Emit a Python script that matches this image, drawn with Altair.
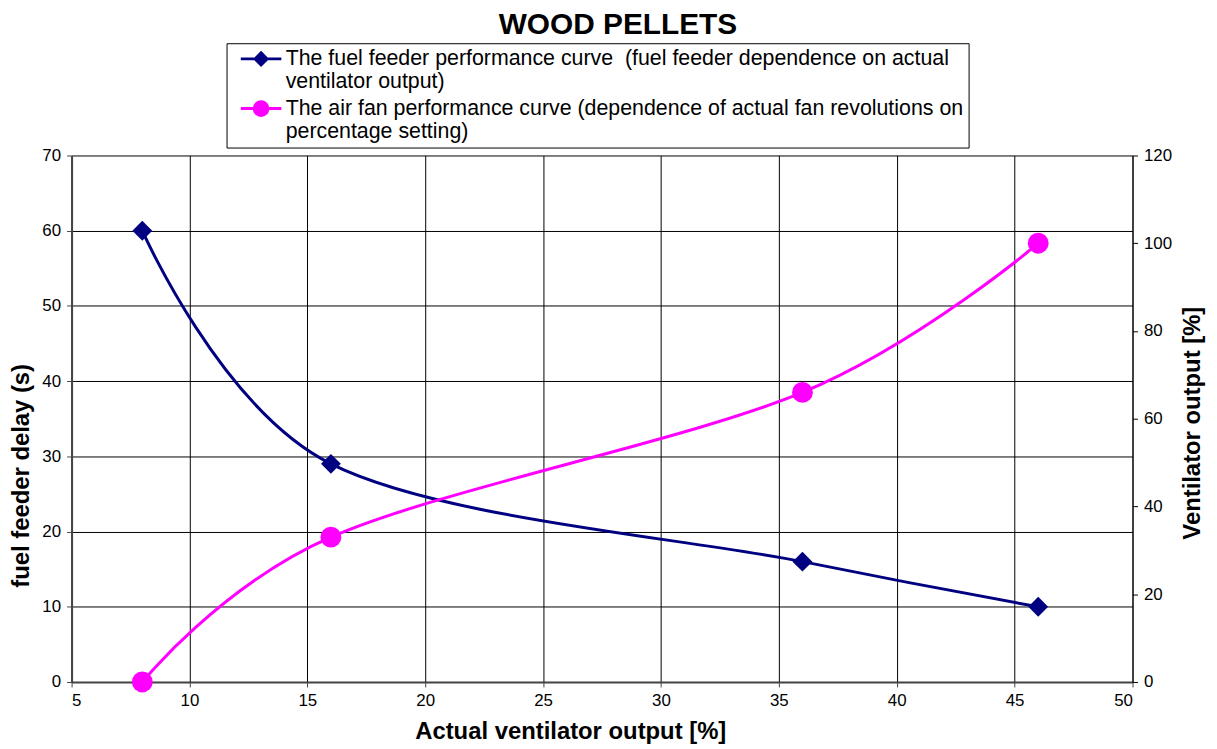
import altair as alt
import pandas as pd

x_vals = [8, 16, 36, 46]
feeder_delay = [60, 29, 16, 10]
fan_output = [0, 33, 66, 100]

feeder_name = "The fuel feeder performance curve\u00a0 (fuel feeder dependence on actual|ventilator output)"
fan_name = "The air fan performance curve (dependence of actual fan revolutions on|percentage setting)"
series_names = [feeder_name, fan_name]
series_colors = ["#000080", "#FF00FF"]

x_ticks = [5, 10, 15, 20, 25, 30, 35, 40, 45, 50]
left_ticks = [0, 10, 20, 30, 40, 50, 60, 70]
right_ticks = [0, 20, 40, 60, 80, 100, 120]

df_feeder = pd.DataFrame({"x": x_vals, "v": feeder_delay, "series": feeder_name})
df_fan = pd.DataFrame({"x": x_vals, "v": fan_output, "series": fan_name})
df_all = pd.concat([df_feeder, df_fan], ignore_index=True)

FONT = "Liberation Sans"

# legend symbols: unit r = 6px; line spans +-20.5px
diamond_path = "M-3.4,0H3.4M0,-1L1,0L0,1L-1,0Z"
circle_path = "M-3.4,0H3.4M1.15,0A1.15,1.15 0 1,1 -1.15,0A1.15,1.15 0 1,1 1.15,0Z"


def make_legend():
    return alt.Legend(
        title=None,
        orient="none",
        legendX=156,
        legendY=-113,
        direction="vertical",
        fillColor="white",
        strokeColor="black",
        padding=5,
        symbolSize=144,
        symbolOffset=19,
        symbolStrokeWidth=3,
        symbolOpacity=1,
        labelFont=FONT,
        labelFontSize=21.5,
        labelColor="black",
        labelLimit=900,
        labelOffset=14,
        rowPadding=2,
        labelExpr="split(datum.label, '|')",
    )


color = alt.Color(
    "series:N",
    scale=alt.Scale(domain=series_names, range=series_colors),
    legend=make_legend(),
)
shape = alt.Shape(
    "series:N",
    scale=alt.Scale(domain=series_names, range=[diamond_path, circle_path]),
    legend=make_legend(),
)

axis_common = dict(
    labelFont=FONT,
    labelFontSize=17,
    labelColor="black",
    labelPadding=6,
    titleFont=FONT,
    titleFontSize=24,
    titleFontWeight="bold",
    titleColor="black",
    titleBaseline="middle",
    titleAlign="center",
    tickSize=5,
)

x_enc = alt.X(
    "x:Q",
    scale=alt.Scale(domain=[5, 50], nice=False, zero=False),
    axis=alt.Axis(
        values=x_ticks,
        title="Actual ventilator output [%]",
        titleX=502,
        titleY=50,
        grid=True,
        gridColor="black",
        gridWidth=1,
        domainColor="#444",
        domainWidth=2,
        tickColor="#444",
        **axis_common,
    ),
)

left = alt.Chart(df_feeder)
left_y = alt.Y(
    "v:Q",
    scale=alt.Scale(domain=[0, 70], nice=False),
    axis=alt.Axis(
        values=left_ticks,
        title="fuel feeder delay (s)",
        titleX=-50,
        titleY=322,
        titleAngle=270,
        grid=True,
        gridColor="black",
        gridWidth=1,
        domainColor="#444",
        domainWidth=2,
        tickColor="#444",
        **axis_common,
    ),
)
left_layer = alt.layer(
    left.mark_line(interpolate="cardinal", tension=0, strokeWidth=3).encode(x=x_enc, y=left_y, color=color),
    left.mark_point(shape="diamond", filled=True, size=400, opacity=1).encode(x=x_enc, y=left_y, color=color),
)

right = alt.Chart(df_fan)
right_y = alt.Y(
    "v:Q",
    scale=alt.Scale(domain=[0, 120], nice=False),
    axis=alt.Axis(
        orient="right",
        values=right_ticks,
        title="Ventilator output [%]",
        titleX=60,
        titleY=269,
        titleAngle=270,
        grid=False,
        domainColor="black",
        domainWidth=1,
        tickColor="black",
        **axis_common,
    ),
)
right_layer = alt.layer(
    right.mark_line(interpolate="cardinal", tension=0, strokeWidth=3).encode(x=x_enc, y=right_y, color=color),
    right.mark_point(shape="circle", filled=True, size=440, opacity=1).encode(x=x_enc, y=right_y, color=color),
)

# legend-only layer (draws no marks: its data is filtered out)
legend_layer = (
    alt.Chart(df_all)
    .transform_filter("datum.x < 0")
    .mark_point(filled=True)
    .encode(color=color, shape=shape)
)

chart = (
    alt.layer(left_layer, right_layer, legend_layer)
    .resolve_scale(y="independent")
    .properties(
        width=1068,
        height=530,
        autosize=alt.AutoSizeParams(type="none"),
        padding={"left": 64, "top": 146, "right": 77, "bottom": 65},
        title=alt.Title(
            "WOOD PELLETS",
            font=FONT,
            fontSize=30,
            fontWeight="bold",
            color="black",
            anchor="middle",
            dx=16,
            offset=3,
        ),
        background="white",
    )
    .configure_view(stroke=None)
)

chart.save("out.html", embed_options={"renderer": "svg", "actions": False})
